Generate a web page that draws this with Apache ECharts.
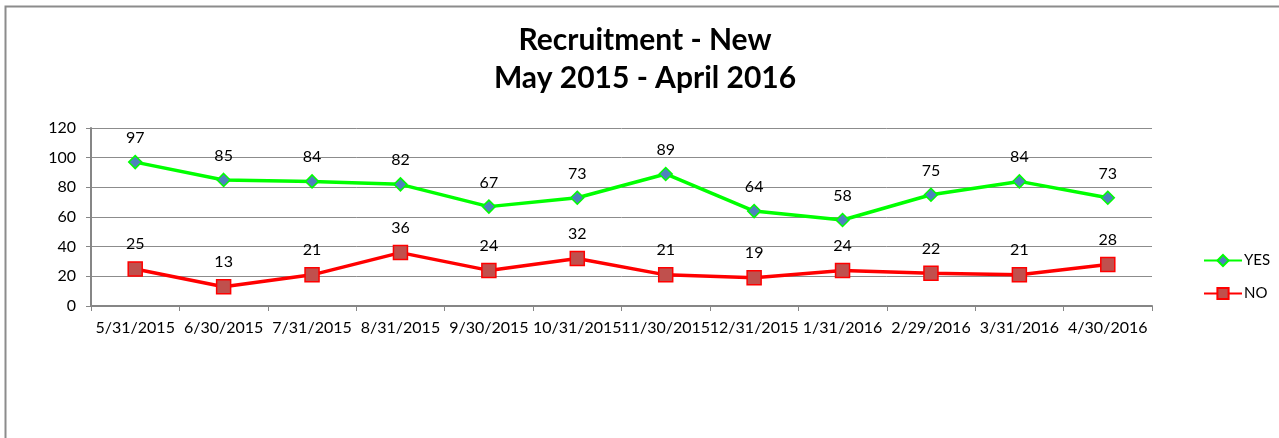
<!DOCTYPE html>
<html>
<head>
<meta charset="utf-8">
<script src="https://cdn.jsdelivr.net/npm/echarts@6/dist/echarts.min.js"></script>
<style>
  html, body { margin: 0; padding: 0; background: #fff; }
  #chart { width: 1279px; height: 438px; }
</style>
</head>
<body>
<div id="chart"></div>
<script>
// chart data
const dates = ['5/31/2015', '6/30/2015', '7/31/2015', '8/31/2015', '9/30/2015', '10/31/2015',
               '11/30/2015', '12/31/2015', '1/31/2016', '2/29/2016', '3/31/2016', '4/30/2016'];
const yesValues = [97, 85, 84, 82, 67, 73, 89, 64, 58, 75, 84, 73];
const noValues = [25, 13, 21, 36, 24, 32, 21, 19, 24, 22, 21, 28];

const fontName = 'Lato, "Open Sans", sans-serif';

var myChart = echarts.init(document.getElementById('chart'));

var option = {
    animation: false,
    textStyle: { fontFamily: fontName },
    title: {
        text: 'Recruitment - New\nMay 2015 - April 2016',
        left: 640,
        textAlign: 'center',
        top: 16,
        textStyle: { fontSize: 30, fontWeight: 'bold', color: '#000', lineHeight: 38, fontFamily: fontName }
    },
    graphic: [{
        type: 'polyline',
        shape: { points: [[5.5, 440], [5.5, 6.5], [1290, 6.5]] },
        style: { stroke: '#8c8c8c', lineWidth: 2, fill: null }
    }],
    legend: {
        orient: 'vertical',
        left: 1198,
        top: 248,
        itemGap: 18,
        itemWidth: 38,
        itemHeight: 14,
        textStyle: { fontSize: 15, color: '#000', padding: [0, 0, 0, -3] },
        data: ['YES', 'NO']
    },
    grid: { left: 91, right: 127, top: 128, bottom: 132, containLabel: false },
    xAxis: {
        type: 'category',
        data: dates,
        boundaryGap: true,
        axisLine: { lineStyle: { color: '#868686', width: 2 } },
        axisTick: { show: true, length: 5, lineStyle: { color: '#868686' } },
        axisLabel: { fontSize: 16, color: '#000', margin: 14, interval: 0 }
    },
    yAxis: {
        type: 'value',
        min: 0,
        max: 120,
        interval: 20,
        axisLine: { show: true, lineStyle: { color: '#868686', width: 2 } },
        axisTick: { show: true, length: 5, inside: false, lineStyle: { color: '#868686' } },
        axisLabel: { fontSize: 16, color: '#000', margin: 15 },
        splitLine: { lineStyle: { color: '#8c8c8c', width: 1 } }
    },
    series: [
        {
            name: 'YES',
            type: 'line',
            data: yesValues,
            symbol: 'diamond',
            symbolSize: 13,
            lineStyle: { color: '#00ff00', width: 3.5 },
            itemStyle: { color: '#4f81bd', borderColor: '#00ff00', borderWidth: 1.5 },
            label: { show: true, position: 'top', distance: 9, fontSize: 16, color: '#000' }
        },
        {
            name: 'NO',
            type: 'line',
            data: noValues,
            symbol: 'rect',
            symbolSize: 14,
            lineStyle: { color: '#ff0000', width: 3.5 },
            itemStyle: { color: '#c0504d', borderColor: '#ff0000', borderWidth: 1.5 },
            label: { show: true, position: 'top', distance: 9, fontSize: 16, color: '#000' }
        }
    ]
};
myChart.setOption(option);
</script>
</body>
</html>
